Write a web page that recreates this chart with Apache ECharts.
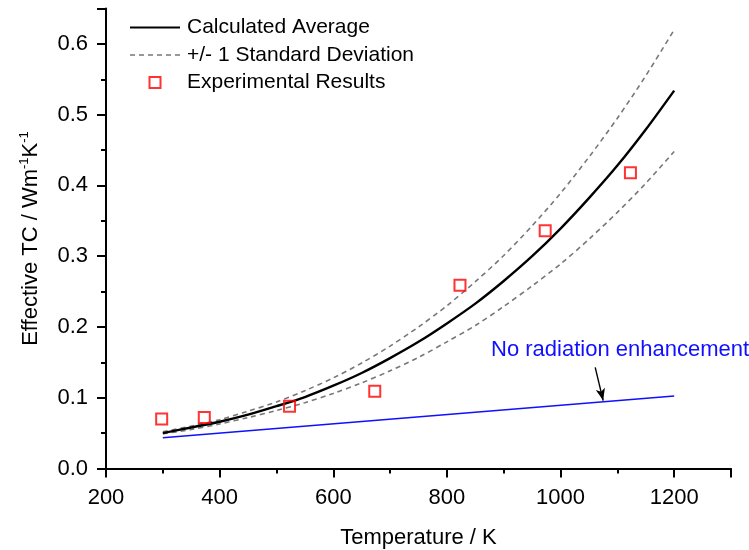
<!DOCTYPE html>
<html>
<head>
<meta charset="utf-8">
<script src="https://cdn.jsdelivr.net/npm/echarts@6/dist/echarts.min.js"></script>
<style>
  html, body { margin: 0; padding: 0; background: #ffffff; }
  #chart { width: 749px; height: 550px; }
</style>
</head>
<body>
<div id="chart"></div>
<script>
// Calculated effective thermal conductivity vs temperature
const temps   = [300, 350, 400, 450, 500, 550, 600, 650, 700, 750, 800, 850, 900, 950, 1000, 1050, 1100, 1150, 1200];
const avgTC   = [0.050, 0.058, 0.066, 0.076, 0.088, 0.101, 0.117, 0.135, 0.156, 0.179, 0.205, 0.233, 0.265, 0.300, 0.339, 0.382, 0.428, 0.479, 0.534];
const upperTC = [0.052, 0.060, 0.069, 0.081, 0.094, 0.110, 0.128, 0.149, 0.173, 0.200, 0.230, 0.264, 0.301, 0.343, 0.389, 0.440, 0.495, 0.555, 0.620];
const lowerTC = [0.049, 0.055, 0.063, 0.072, 0.082, 0.093, 0.106, 0.121, 0.138, 0.157, 0.179, 0.202, 0.229, 0.258, 0.289, 0.324, 0.362, 0.403, 0.448];

// Measured values
const expTemps = [298, 373, 523, 673, 823, 973, 1123];
const expTC    = [0.070, 0.072, 0.088, 0.109, 0.259, 0.336, 0.418];

// Conduction only (no radiation enhancement)
const baseTemps = [300, 1200];
const baseTC    = [0.0435, 0.1025];

// Annotation arrow endpoints (temperature, TC)
const arrowFrom = [1061, 0.143];
const arrowTo   = [1075, 0.096];

const xTickLabels = [200, 400, 600, 800, 1000, 1200];
const yTickLabels = [0.0, 0.1, 0.2, 0.3, 0.4, 0.5, 0.6];

const pairs = (xs, ys) => xs.map((x, i) => [x, ys[i]]);

const FONT = "'Liberation Sans', Arial, sans-serif";
const chart = echarts.init(document.getElementById('chart'), null, { renderer: 'canvas' });

const axisLine = { show: true, lineStyle: { color: '#000', width: 2 } };

// Legend glyphs: a plain stroke and a dashed stroke, 50 px wide
const solidIcon = 'path://M0 0H50V2.2H0Z';
const dashIcon = 'path://M0 0H5V1.6H0Z M9 0H14V1.6H9Z M18 0H23V1.6H18Z M27 0H32V1.6H27Z M36 0H41V1.6H36Z M45 0H50V1.6H45Z';

chart.setOption({
  animation: false,
  backgroundColor: '#ffffff',
  textStyle: { fontFamily: FONT },
  grid: { left: 106, right: 18, top: 8.5, bottom: 81.5, containLabel: false, outerBoundsMode: 'none' },
  legend: {
    orient: 'vertical',
    left: 130,
    top: 17,
    padding: 0,
    itemWidth: 50,
    itemHeight: 11,
    itemGap: 6.5,
    symbolKeepAspect: true,
    textStyle: { fontFamily: FONT, fontSize: 21, color: '#000', lineHeight: 20, padding: [0, 0, 0, 2] },
    selectedMode: false,
    data: [
      { name: 'Calculated Average', icon: solidIcon, itemStyle: { color: '#000' } },
      { name: '+/- 1 Standard Deviation', icon: dashIcon, itemStyle: { color: '#777' } },
      { name: 'Experimental Results', icon: 'path://M0 0H10V10H0Z',
        itemStyle: { color: 'rgba(0,0,0,0)', borderColor: '#ff0000', borderWidth: 2 } }
    ]
  },
  xAxis: [
    {
      type: 'value', min: 200, max: 1300, interval: 200,
      axisLine: axisLine,
      axisTick: { show: true, inside: false, length: 9, lineStyle: { color: '#000', width: 2 } },
      axisLabel: {
        margin: 18, fontSize: 22, color: '#000', fontFamily: FONT,
        formatter: v => (xTickLabels.indexOf(v) >= 0 ? String(v) : '')
      },
      splitLine: { show: false },
      name: 'Temperature / K',
      nameLocation: 'middle',
      nameGap: 58,
      nameTextStyle: { fontSize: 22, color: '#000', fontFamily: FONT }
    },
    {
      type: 'value', min: 200, max: 1300, interval: 100, position: 'bottom',
      axisLine: { show: false },
      axisTick: { show: true, inside: false, length: 5, lineStyle: { color: '#000', width: 2 } },
      axisLabel: { show: false },
      splitLine: { show: false }
    }
  ],
  yAxis: [
    {
      type: 'value', min: 0, max: 0.65, interval: 0.1,
      axisLine: axisLine,
      axisTick: { show: true, inside: false, length: 9, lineStyle: { color: '#000', width: 2 } },
      axisLabel: {
        margin: 18, fontSize: 22, color: '#000', fontFamily: FONT,
        formatter: v => {
          const hit = yTickLabels.find(t => Math.abs(t - v) < 1e-6);
          return hit === undefined ? '' : hit.toFixed(1);
        }
      },
      splitLine: { show: false },
      name: '{a|Effective TC / Wm}{s|-1}{a|K}{s|-1}',
      nameLocation: 'middle',
      nameRotate: 90,
      nameGap: 64,
      nameTextStyle: {
        color: '#000',
        rich: {
          a: { fontSize: 22, fontFamily: FONT, color: '#000', lineHeight: 24, verticalAlign: 'bottom' },
          s: { fontSize: 13, fontFamily: FONT, color: '#000', lineHeight: 24, verticalAlign: 'top' }
        }
      }
    },
    {
      type: 'value', min: 0, max: 0.65, interval: 0.05, position: 'left',
      axisLine: { show: false },
      axisTick: { show: true, inside: false, length: 5, lineStyle: { color: '#000', width: 2 } },
      axisLabel: { show: false },
      splitLine: { show: false }
    }
  ],
  series: [
    {
      name: 'No radiation enhancement',
      type: 'line',
      data: pairs(baseTemps, baseTC),
      symbol: 'none',
      lineStyle: { color: '#1010ff', width: 1.6 },
      z: 2,
      markLine: {
        silent: true,
        symbol: ['none', 'arrow'],
        symbolSize: [7, 12],
        label: { show: false },
        lineStyle: { color: '#000', width: 1.4, type: 'solid' },
        data: [[{ coord: arrowFrom }, { coord: arrowTo }]]
      }
    },
    {
      name: '+/- 1 Standard Deviation',
      type: 'line',
      data: pairs(temps, upperTC),
      smooth: 0.3,
      symbol: 'none',
      itemStyle: { color: '#777' },
      lineStyle: { color: '#777', width: 1.6, type: [5, 4] },
      z: 3
    },
    {
      name: '+/- 1 Standard Deviation',
      type: 'line',
      data: pairs(temps, lowerTC),
      smooth: 0.3,
      symbol: 'none',
      itemStyle: { color: '#777' },
      lineStyle: { color: '#777', width: 1.6, type: [5, 4] },
      z: 3
    },
    {
      name: 'Calculated Average',
      type: 'line',
      data: pairs(temps, avgTC),
      smooth: 0.3,
      symbol: 'none',
      itemStyle: { color: '#000' },
      lineStyle: { color: '#000', width: 2.4 },
      z: 4
    },
    {
      name: 'Experimental Results',
      type: 'scatter',
      data: pairs(expTemps, expTC),
      symbol: 'rect',
      symbolSize: 11,
      itemStyle: { color: 'rgba(255,255,255,0)', borderColor: '#ff0000', borderWidth: 2 },
      z: 5
    }
  ],
  graphic: [
    {
      type: 'text',
      left: 491,
      top: 339,
      style: { text: 'No radiation enhancement', fill: '#1010ff', font: '22px ' + FONT }
    }
  ]
});
</script>
</body>
</html>
